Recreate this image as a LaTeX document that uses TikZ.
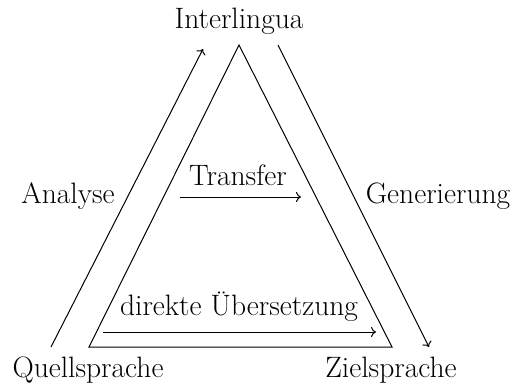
\documentclass[tikz,border=0pt]{standalone}
\usetikzlibrary{arrows.meta}
\begin{document}
\begin{tikzpicture}[x=1pt,y=-1pt,
  lbl/.style={anchor=base,inner sep=0pt,font=\fontsize{29.5}{34}\selectfont},
  ln/.style={line width=1pt},
  arr/.style={ln,-{To[length=5pt,width=10pt]}}]
\useasboundingbox (0,0) rectangle (516,386);
% labels
\node[lbl] (inter) at (239,28) {Interlingua};
\node[lbl] (ana) at (68,203) {Analyse};
\node[lbl] (trans) at (238,185) {Transfer};
\node[lbl] (gen) at (438,203) {Generierung};
\node[lbl] (quell) at (88,377) {Quellsprache};
\node[lbl] (ziel) at (391,377) {Zielsprache};
\node[lbl] (direkt) at (239,315) {direkte Übersetzung};
% inner triangle
\coordinate (apex) at (239,45);
\coordinate (bl) at (89,347);
\coordinate (br) at (392,347);
\draw[ln] (bl) -- (apex) -- (br) -- cycle;
% outer arrows
\coordinate (a1) at (51,347);
\coordinate (a2) at (203,49);
\coordinate (g1) at (278,45);
\coordinate (g2) at (429,347);
\draw[arr] (a1) -- (a2);
\draw[arr] (g1) -- (g2);
% inner arrows
\coordinate (t1) at (180,197);
\coordinate (t2) at (301,197);
\coordinate (d1) at (103,332);
\coordinate (d2) at (376,332);
\draw[arr] (t1) -- (t2);
\draw[arr] (d1) -- (d2);
\end{tikzpicture}
\end{document}
